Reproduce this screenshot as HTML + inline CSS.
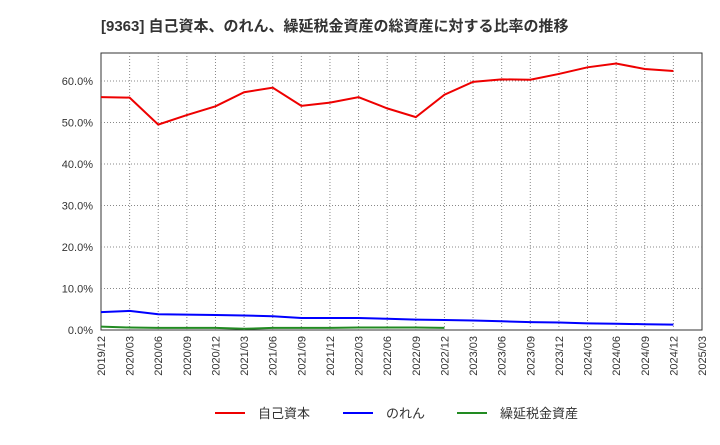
<!DOCTYPE html>
<html><head><meta charset="utf-8"><style>
body{margin:0;background:#fff;font-family:"Liberation Sans","Noto Sans CJK JP",sans-serif;}
svg text{font-family:"Liberation Sans","Noto Sans CJK JP",sans-serif;}
</style></head><body>
<svg id="chart" width="720" height="440" xmlns="http://www.w3.org/2000/svg">
<text x="101" y="31" font-size="15" font-weight="bold" fill="#333">[9363]  自己資本、のれん、繰延税金資産の総資産に対する比率の推移</text>
<rect x="101" y="53" width="601" height="277" fill="none" stroke="#333" stroke-width="1"/>
<g id="grid"></g><g id="yt"></g><g id="xt"></g><g id="series"></g>
<g>
<line x1="215" y1="413" x2="245" y2="413" stroke="#e00" stroke-width="2"/><text x="258" y="418" font-size="13" fill="#333">自己資本</text>
<line x1="343" y1="413" x2="373" y2="413" stroke="#00f" stroke-width="2"/><text x="386" y="418" font-size="13" fill="#333">のれん</text>
<line x1="457" y1="413" x2="487" y2="413" stroke="#228b22" stroke-width="2"/><text x="500" y="418" font-size="13" fill="#333">繰延税金資産</text>
</g>
</svg>
<script>
const categories=["2019/12","2020/03","2020/06","2020/09","2020/12","2021/03","2021/06","2021/09","2021/12","2022/03","2022/06","2022/09","2022/12","2023/03","2023/06","2023/09","2023/12","2024/03","2024/06","2024/09","2024/12","2025/03"];
const equity=[56.1,56.0,49.5,51.8,53.9,57.3,58.4,54.0,54.8,56.1,53.4,51.3,56.7,59.8,60.4,60.3,61.7,63.3,64.2,62.9,62.4];
const goodwill=[4.3,4.6,3.8,3.7,3.6,3.5,3.3,2.9,2.9,2.9,2.7,2.5,2.4,2.3,2.1,1.9,1.8,1.6,1.5,1.4,1.3];
const dta=[0.8,0.6,0.5,0.5,0.5,0.3,0.5,0.5,0.5,0.6,0.6,0.6,0.5];
const yTicks=[0,10,20,30,40,50,60];
const NS="http://www.w3.org/2000/svg";
const x0=101,x1=702,y0=330,yTop=53;
const xs=i=>x0+i*(x1-x0)/(categories.length-1);
const ys=v=>y0-v*41.5/10;
function mk(t,a,p){const e=document.createElementNS(NS,t);for(const k in a)e.setAttribute(k,a[k]);p.appendChild(e);return e;}
const grid=document.getElementById('grid'),yt=document.getElementById('yt'),xt=document.getElementById('xt'),ser=document.getElementById('series');
yTicks.forEach(v=>{
 if(v>0){const g=mk('line',{x1:x0,x2:x1,y1:ys(v),y2:ys(v),stroke:'#888','stroke-dasharray':'1,2'},grid);
 
 }
 const t=mk('text',{x:x0-8,y:ys(v)+4,'text-anchor':'end','font-size':'11',fill:'#333'},yt);t.textContent=v.toFixed(1)+'%';
 
 
});
categories.forEach((c,i)=>{
 if(i>0&&i<categories.length-1){const g=mk('line',{x1:xs(i),x2:xs(i),y1:yTop,y2:y0,stroke:'#888','stroke-dasharray':'1,2'},grid);
 
 }
 const t=mk('text',{transform:`translate(${xs(i)+4},${y0+6}) rotate(-90)`,'text-anchor':'end','font-size':'11',fill:'#333'},xt);t.textContent=c;
 
 
});
function line(d,col,name){const p=mk('polyline',{points:d.map((v,i)=>xs(i)+','+ys(v)).join(' '),fill:'none',stroke:col,'stroke-width':'2'},ser);
 
 }
line(dta,'#228b22','dta-line');
line(goodwill,'#00f','goodwill-line');
line(equity,'#e00','equity-line');
</script>
</body></html>
